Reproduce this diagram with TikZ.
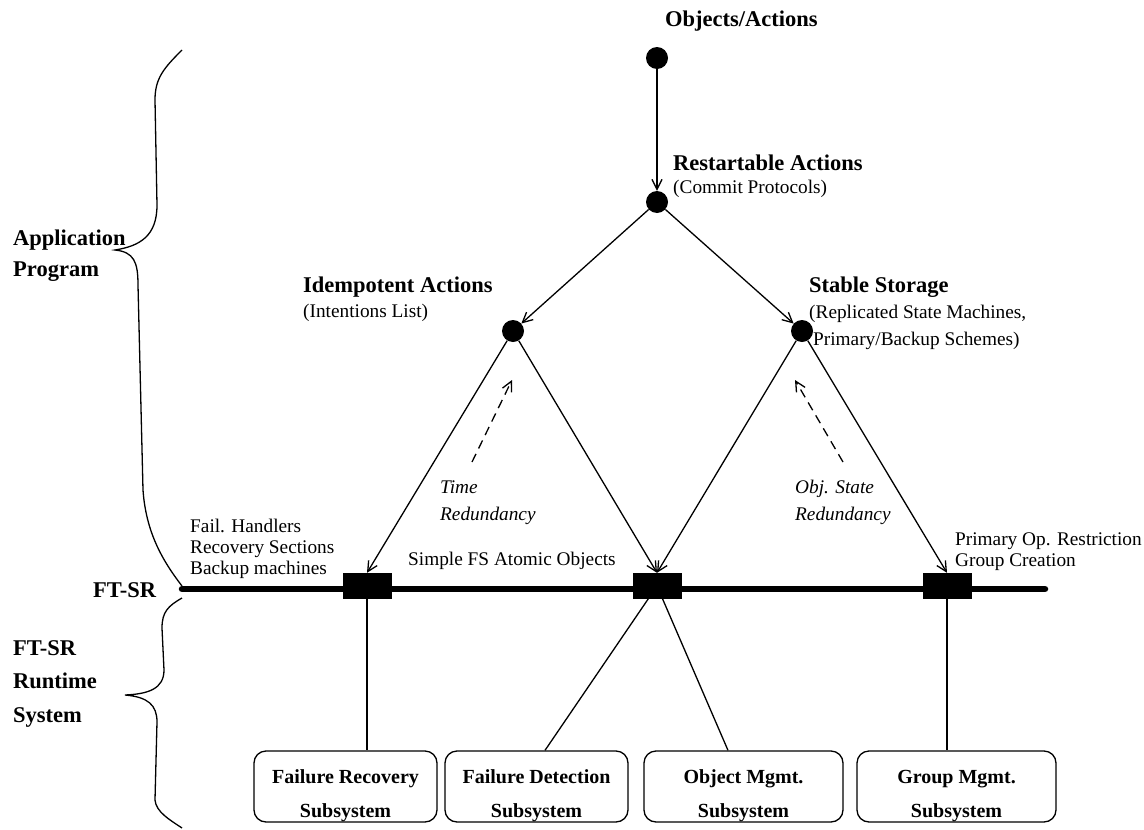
\documentclass[tikz,border=0pt]{standalone}
\usepackage{fontspec}
\setmainfont{Liberation Serif}
\usetikzlibrary{arrows.meta,calc,backgrounds}
\begin{document}
\begin{tikzpicture}[x=1pt,y=-1pt,
  thinl/.style={line width=1.3pt},
  arr/.style={line width=1.3pt,-{Straight Barb[length=10pt,width=10pt,line width=1.3pt]}},
  dot/.style={circle,fill=black,minimum size=22pt,inner sep=0pt},
  sq/.style={rectangle,fill=black,minimum width=49pt,minimum height=26pt,inner sep=0pt},
  sbox/.style={draw,line width=1.3pt,rounded corners=12pt,minimum height=71pt,inner sep=0pt},
  bl/.style={font=\fontsize{22.5}{27}\selectfont\bfseries,inner sep=0pt,anchor=base west},
  rl/.style={font=\fontsize{19.3}{23}\selectfont,inner sep=0pt,anchor=base west},
  il/.style={font=\fontsize{19.3}{23}\selectfont\itshape,inner sep=0pt,anchor=base west},
  bx/.style={font=\fontsize{20}{24}\selectfont\bfseries,inner sep=0pt,anchor=base},
  bus/.style={line width=6.5pt,line cap=round}
]
\useasboundingbox (0,0) rectangle (1144,830);

% bus
\coordinate (busL) at (182,589);
\coordinate (busR) at (1045,589);
\draw[bus] (busL) -- (busR);

% dots
\node[dot] (oa) at (657,58) {};
\node[dot] (ra) at (657,202) {};
\node[dot] (ia) at (513,331) {};
\node[dot] (ss) at (802,331) {};

% squares
\node[sq] (lsq) at (367,586) {};
\node[sq] (msq) at (657,586) {};
\node[sq] (rsq) at (947,586) {};

% boxes
\node[sbox,minimum width=183pt] (fr) at (345.5,786.5) {};
\node[sbox,minimum width=183pt] (fd) at (536.5,786.5) {};
\node[sbox,minimum width=199pt] (om) at (743.5,786.5) {};
\node[sbox,minimum width=199pt] (gm) at (956.5,786.5) {};

\node[bx] at (345.5,783) {Failure Recovery};
\node[bx] at (345.5,817) {Subsystem};
\node[bx] at (536.5,783) {Failure Detection};
\node[bx] at (536.5,817) {Subsystem};
\node[bx] at (743.5,783) {Object Mgmt.};
\node[bx] at (743.5,817) {Subsystem};
\node[bx] at (956.5,783) {Group Mgmt.};
\node[bx] at (956.5,817) {Subsystem};

% arrows
\draw[arr] (oa) -- (ra);
\draw[arr] (ra) -- (ia);
\draw[arr] (ra) -- (ss);
\draw[arr] (ia) -- (lsq.north);
\draw[arr] (ia) -- (msq.north);
\draw[arr] (ss) -- (msq.north);
\draw[arr] (ss) -- (rsq.north);

% lines to subsystems
\begin{pgfonlayer}{background}
\draw[thinl] (lsq.center) -- (lsq.center |- fr.north);
\draw[thinl] (msq.center) -- ($(fd.north)+(8.5,0)$);
\draw[thinl] (msq.center) -- ($(om.north)+(-15.5,0)$);
\draw[thinl] (rsq.center) -- (rsq.center |- gm.north);
\end{pgfonlayer}

% dashed arrows
\coordinate (d1s) at (472,462);
\coordinate (d1e) at (512,380);
\coordinate (d2s) at (843,462);
\coordinate (d2e) at (795,380);
\draw[arr,dash pattern=on 9pt off 6pt] (d1s) -- (d1e);
\draw[arr,dash pattern=on 9pt off 6pt] (d2s) -- (d2e);

% labels
\node[bl] at (665,26) {Objects/Actions};
\node[bl] at (673,170) {Restartable Actions};
\node[rl] at (673,193) {(Commit Protocols)};
\node[bl] at (303,292) {Idempotent Actions};
\node[rl] at (303,317) {(Intentions List)};
\node[bl] at (809,292) {Stable Storage};
\node[rl] at (809,318) {(Replicated State Machines,};
\node[rl] at (813,345) {Primary/Backup Schemes)};
\node[il] at (440,493) {Time};
\node[il] at (440,520) {Redundancy};
\node[il] at (795,493) {Obj. State};
\node[il] at (795,520) {Redundancy};
\node[rl] at (190,532) {Fail. Handlers};
\node[rl] at (190,553) {Recovery Sections};
\node[rl] at (190,574) {Backup machines};
\node[rl] at (408,565) {Simple FS Atomic Objects};
\node[rl] at (955,545) {Primary Op. Restriction};
\node[rl] at (955,566) {Group Creation};
\node[bl] at (93,597) {FT-SR};
\node[bl] at (13,245) {Application};
\node[bl] at (13,276) {Program};
\node[bl] at (13,655) {FT-SR};
\node[bl] at (13,688) {Runtime};
\node[bl] at (13,722) {System};

% braces
\draw[thinl] (182,50) .. controls (164,68) and (155,78) .. (155,100)
  -- (157,205) .. controls (157,236) and (140,246) .. (115,250)
  .. controls (134,252) and (138,262) .. (138,285)
  -- (143,490) .. controls (146,532) and (162,560) .. (182,586);
\draw[thinl] (182,598) .. controls (168,606) and (162,612) .. (162,628)
  -- (164,670) .. controls (164,689) and (148,694) .. (125,695)
  .. controls (148,697) and (157,705) .. (157,722)
  -- (155,800) .. controls (156,812) and (170,820) .. (182,828);
\end{tikzpicture}
\end{document}
